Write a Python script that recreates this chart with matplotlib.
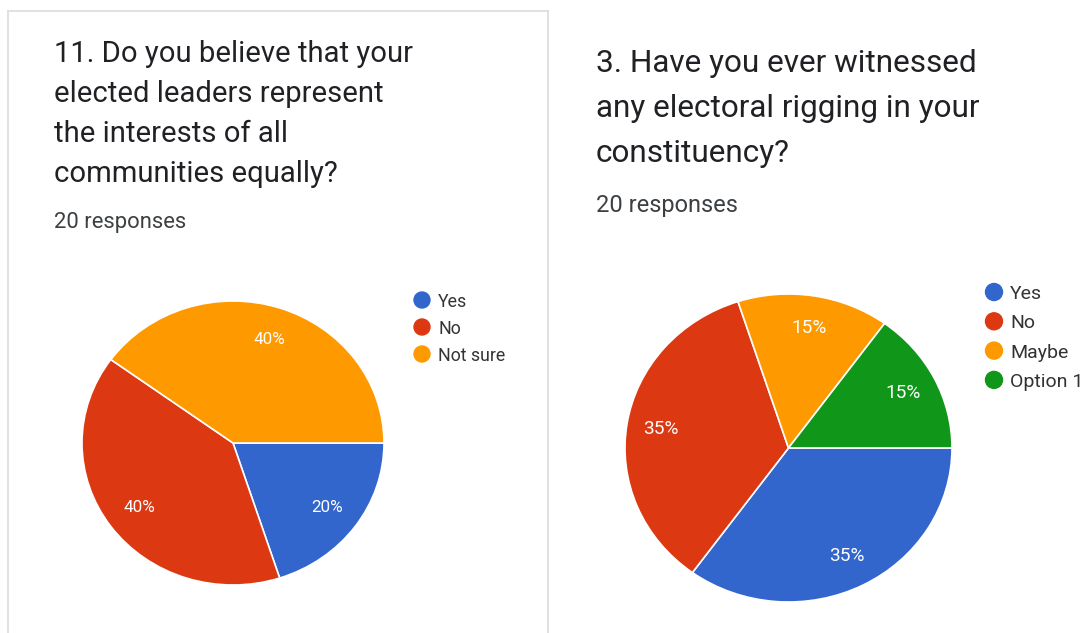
import matplotlib
matplotlib.use("Agg")
import matplotlib.pyplot as plt
from matplotlib.lines import Line2D
from matplotlib.patches import Ellipse

W, H = 1085, 633
plt.rcParams['font.family'] = ['Roboto', 'DejaVu Sans']

# ---- data ----
q1_title = ["11. Do you believe that your", "elected leaders represent",
            "the interests of all", "communities equally?"]
q1_labels = ["Yes", "No", "Not sure"]
q1_values = [20, 40, 40]
q1_colors = ["#3366CC", "#DC3912", "#FF9900"]

q2_title = ["3. Have you ever witnessed", "any electoral rigging in your",
            "constituency?"]
q2_labels = ["Yes", "No", "Maybe", "Option 1"]
q2_values = [35, 35, 15, 15]
q2_colors = ["#3366CC", "#DC3912", "#FF9900", "#109618"]

responses = "20 responses"

fig = plt.figure(figsize=(W / 100, H / 100), dpi=100)
fig.patch.set_facecolor("white")


def fx(x):
    return x / W


def fy(y):
    return 1 - y / H


def px2pt(p):
    return p * 72 / 100


# panel borders
border = "#dadce0"
fig.add_artist(Line2D([fx(8), fx(8)], [fy(11), fy(640)], color=border, lw=1.2))
fig.add_artist(Line2D([fx(548), fx(548)], [fy(11), fy(640)], color=border, lw=1.2))
fig.add_artist(Line2D([fx(8), fx(548)], [fy(11), fy(11)], color=border, lw=1.2))


def panel(title, title_x, title_y0, title_step, title_px, resp_y, resp_px,
          labels, values, colors, cx, cy, rx, ry, pct_px, pctdist,
          leg_x, leg_y0, leg_step, leg_px, leg_r):
    for i, line in enumerate(title):
        fig.text(fx(title_x), fy(title_y0 + i * title_step), line,
                 fontsize=px2pt(title_px), color="#202124", va="baseline", ha="left")
    fig.text(fx(title_x), fy(resp_y), responses, fontsize=px2pt(resp_px),
             color="#3c4043", va="baseline", ha="left")

    ax = fig.add_axes([fx(cx - rx), fy(cy + ry), (2 * rx) / W, (2 * ry) / H])
    wedges, texts, autotexts = ax.pie(
        values, colors=colors, startangle=0, counterclock=False,
        autopct=lambda p: f"{p:.0f}%", pctdistance=pctdist,
        wedgeprops=dict(edgecolor="white", linewidth=1.2),
        textprops=dict(color="white", fontsize=px2pt(pct_px)))
    ax.set_aspect("auto")
    ax.set_xlim(-1, 1)
    ax.set_ylim(-1, 1)
    ax.axis("off")

    for i, (lab, col) in enumerate(zip(labels, colors)):
        y = leg_y0 + i * leg_step
        fig.add_artist(Ellipse((fx(leg_x), fy(y)), 2 * leg_r / W, 2 * leg_r / H,
                               color=col, transform=fig.transFigure))
        fig.text(fx(leg_x + 16), fy(y), lab, fontsize=px2pt(leg_px),
                 color="#333333", va="center_baseline", ha="left")


panel(q1_title, 54, 62, 40, 29.2, 228, 22,
      q1_labels, q1_values, q1_colors,
      233, 443, 151, 142, 17, 0.77,
      422, 300, 27, 17.7, 8)

panel(q2_title, 596, 72, 45, 31.5, 212, 23.6,
      q2_labels, q2_values, q2_colors,
      788.5, 448, 163.5, 154, 19, 0.79,
      994, 292, 29.3, 19.5, 8.5)

fig.savefig("out.png", dpi=100, facecolor="white")
